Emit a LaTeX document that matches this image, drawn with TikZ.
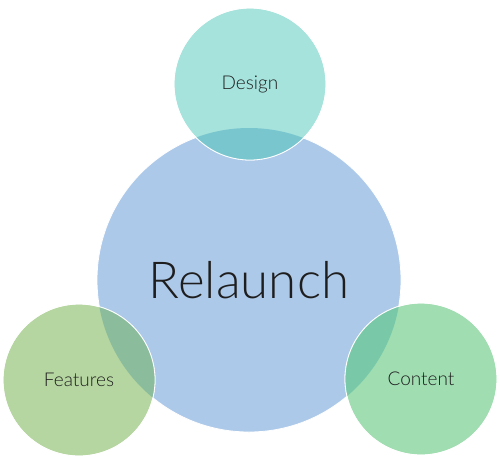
\documentclass[tikz,border=0pt]{standalone}
\usepackage{fontspec}
\setmainfont{Lato Light}
\usepackage{tikz}

\definecolor{relaunchblue}{HTML}{ADC9E9}
\definecolor{designteal}{HTML}{A6E3DC}
\definecolor{featuresgreen}{HTML}{B6D6A1}
\definecolor{contentgreen}{HTML}{A0DDB1}
\definecolor{designover}{HTML}{7AC6CF}
\definecolor{featuresover}{HTML}{8BBD9C}
\definecolor{contentover}{HTML}{79C9A9}
\definecolor{labelgray}{HTML}{1E1E1E}

\tikzset{
  bubble/.style={circle, inner sep=0pt, draw=white, line width=0.8pt},
  bigbubble/.style={bubble, minimum size=304pt, fill=relaunchblue},
  smallbubble/.style={bubble, minimum size=152pt},
  smalllabel/.style={text=labelgray, font=\fontsize{19}{21}\selectfont},
  biglabel/.style={text=labelgray, font=\fontsize{51}{56}\selectfont}
}

\begin{document}
\begin{tikzpicture}[x=1pt,y=-1pt]
            \useasboundingbox (0,0) rectangle (500,464);

            \node[bigbubble] (relaunch) at (249,280) {};
            \node[smallbubble, fill=designteal] (design) at (250,84) {};
            \node[smallbubble, fill=featuresgreen] (features) at (79,380) {};
            \node[smallbubble, fill=contentgreen] (content) at (421,379) {};

            \begin{scope}
                \clip (relaunch.center) circle (152);
                \fill[designover] (design.center) circle (76);
                \fill[featuresover] (features.center) circle (76);
                \fill[contentover] (content.center) circle (76);
            \end{scope}

            \draw[white, line width=0.8pt] (design.center) circle (76);
            \draw[white, line width=0.8pt] (features.center) circle (76);
            \draw[white, line width=0.8pt] (content.center) circle (76);

            \node[biglabel] at (relaunch.center) {Relaunch};
            \node[smalllabel] at (design.center) {Design};
            \node[smalllabel] at (features.center) {Features};
            \node[smalllabel] at (content.center) {Content};
        \end{tikzpicture}
\end{document}
